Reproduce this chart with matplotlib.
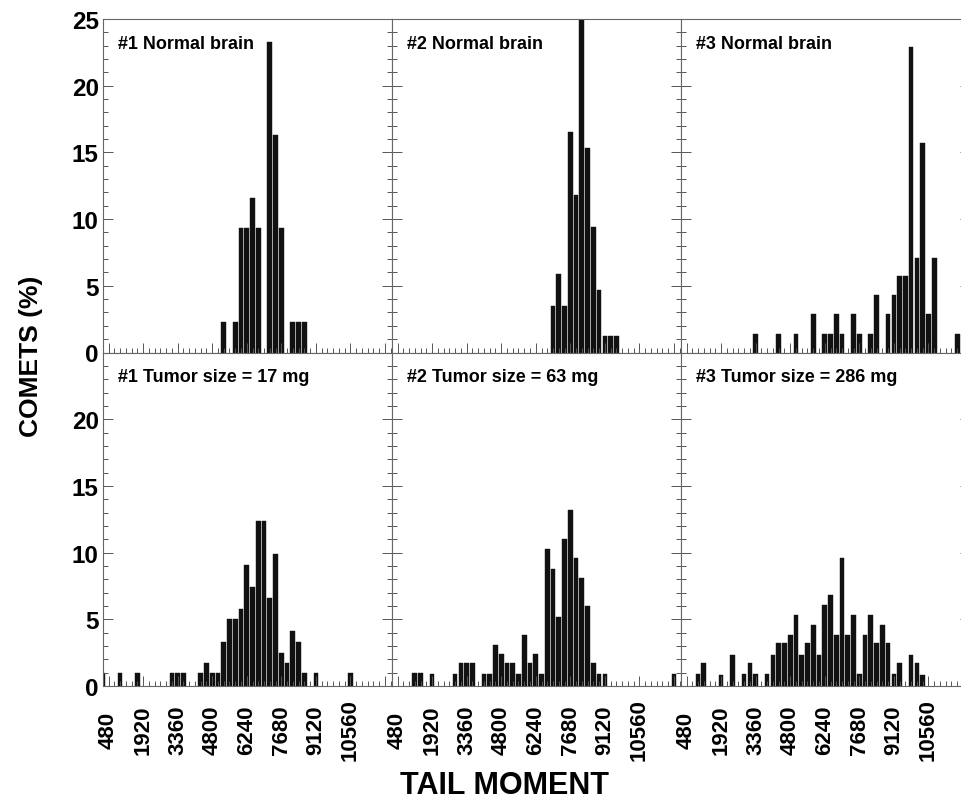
import matplotlib
matplotlib.use("Agg")
import matplotlib.pyplot as plt
from matplotlib.ticker import MultipleLocator

# Comet assay tail-moment histograms: bin centres (tail moment) and % of comets
normal1_tm = [5280, 5760, 6000, 6240, 6480, 6720, 7200, 7440, 7680, 8160, 8400, 8640]
normal1_pct = [2.3, 2.3, 9.3, 9.3, 11.6, 9.3, 23.3, 16.3, 9.3, 2.3, 2.3, 2.3]

normal2_tm = [6960, 7200, 7440, 7680, 7920, 8160, 8400, 8640, 8880, 9120, 9360, 9600]
normal2_pct = [3.5, 5.9, 3.5, 16.5, 11.8, 25.9, 15.3, 9.4, 4.7, 1.2, 1.2, 1.2]

normal3_tm = [3360, 4320, 5040, 5760, 6240, 6480, 6720, 6960, 7440, 7680, 8160,
              8400, 8880, 9120, 9360, 9600, 9840, 10080, 10320, 10560, 10800, 11760]
normal3_pct = [1.4, 1.4, 1.4, 2.9, 1.4, 1.4, 2.9, 1.4, 2.9, 1.4, 1.4,
               4.3, 2.9, 4.3, 5.7, 5.7, 22.9, 7.1, 15.7, 2.9, 7.1, 1.4]

tumor1_tm = [240, 960, 1680, 3120, 3360, 3600, 4320, 4560, 4800, 5040, 5280, 5520,
             5760, 6000, 6240, 6480, 6720, 6960, 7200, 7440, 7680, 7920, 8160, 8400,
             8640, 9120, 10560]
tumor1_pct = [1.0, 1.0, 1.0, 1.0, 1.0, 1.0, 1.0, 1.7, 1.0, 1.0, 3.3, 5.0,
              5.0, 5.8, 9.1, 7.4, 12.4, 12.4, 6.6, 9.9, 2.5, 1.7, 4.1, 3.3,
              1.0, 1.0, 1.0]

tumor2_tm = [1200, 1440, 1920, 2880, 3120, 3360, 3600, 4080, 4320, 4560, 4800, 5040,
             5280, 5520, 5760, 6000, 6240, 6480, 6720, 6960, 7200, 7440, 7680, 7920,
             8160, 8400, 8640, 8880, 9120, 12000]
tumor2_pct = [1.0, 1.0, 0.9, 0.9, 1.7, 1.7, 1.7, 0.9, 0.9, 3.1, 2.4, 1.7,
              1.7, 0.9, 3.8, 1.7, 2.4, 0.9, 10.3, 8.8, 5.2, 11.0, 13.2, 9.6,
              8.1, 6.0, 1.7, 0.9, 0.9, 0.9]

tumor3_tm = [960, 1200, 1920, 2400, 2880, 3120, 3360, 3840, 4080, 4320, 4560, 4800,
             5040, 5280, 5520, 5760, 6000, 6240, 6480, 6720, 6960, 7200, 7440, 7680,
             7920, 8160, 8400, 8640, 8880, 9120, 9360, 9840, 10080, 10320]
tumor3_pct = [0.9, 1.7, 0.8, 2.3, 0.9, 1.7, 0.9, 0.9, 2.3, 3.2, 3.2, 3.8,
              5.3, 2.3, 3.2, 4.6, 2.3, 6.1, 6.8, 3.8, 9.6, 3.8, 5.3, 0.9,
              3.8, 5.3, 3.2, 4.6, 3.2, 0.9, 1.7, 2.3, 1.7, 0.8]

titles = [["#1 Normal brain", "#2 Normal brain", "#3 Normal brain"],
          ["#1 Tumor size = 17 mg", "#2 Tumor size = 63 mg", "#3 Tumor size = 286 mg"]]
panels = [[(normal1_tm, normal1_pct), (normal2_tm, normal2_pct), (normal3_tm, normal3_pct)],
          [(tumor1_tm, tumor1_pct), (tumor2_tm, tumor2_pct), (tumor3_tm, tumor3_pct)]]

xticks = [480, 1920, 3360, 4800, 6240, 7680, 9120, 10560, 12000]
xtick_labels = ["480", "1920", "3360", "4800", "6240", "7680", "9120", "10560", ""]
yticks = [0, 5, 10, 15, 20, 25]

bold = dict(fontweight="bold", family=["Liberation Sans", "DejaVu Sans"])

fig, axes = plt.subplots(2, 3, figsize=(9.62, 8.04), dpi=100)
fig.subplots_adjust(left=103 / 962, right=970 / 962, top=1 - 20 / 804,
                    bottom=1 - 687 / 804, wspace=0, hspace=0)

for r in range(2):
    for c in range(3):
        ax = axes[r, c]
        tm, pct = panels[r][c]
        ax.bar(tm, pct, width=195, color="#111111", edgecolor="#111111", linewidth=0.3)
        ax.set_xlim(250, 12292)
        ax.set_ylim(0, 25)

        ax.set_xticks(xticks)
        ax.set_xticklabels(xtick_labels, rotation=90, va="center", fontsize=16, **bold)
        ax.xaxis.set_minor_locator(MultipleLocator(240))
        ax.set_yticks(yticks)
        ylabels = [str(v) for v in yticks]
        if r == 1:
            ylabels[-1] = ""
        ax.set_yticklabels(ylabels, fontsize=17.5, **bold)
        ax.yaxis.set_minor_locator(MultipleLocator(1))

        ax.tick_params(which="both", direction="in", right=True, top=False,
                       color="#555555", width=0.7)
        ax.tick_params(which="major", length=7)
        ax.tick_params(which="minor", length=3.5)
        ax.tick_params(axis="x", pad=31, labelbottom=(r == 1))
        ax.tick_params(axis="y", pad=3, labelleft=(c == 0))

        for sp in ax.spines.values():
            sp.set_color("#666666")
            sp.set_linewidth(0.8)

        ax.annotate(titles[r][c], xy=(0, 1), xycoords="axes fraction",
                    xytext=(15, -29), textcoords="offset pixels",
                    ha="left", va="baseline", fontsize=13, **bold)

fig.text(31 / 962, 1 - 356 / 804, "COMETS (%)", rotation=90, ha="center",
         va="center", fontsize=19, **bold)
fig.text(505 / 962, 1 - 786 / 804, "TAIL MOMENT", ha="center", va="center",
         fontsize=22, **bold)

fig.savefig("out.png", dpi=100)
